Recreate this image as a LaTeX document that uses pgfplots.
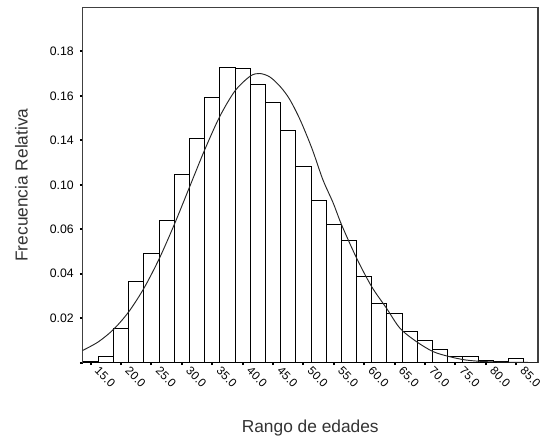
\documentclass[border=0pt]{standalone}
\usepackage{fontspec}
\setmainfont{Liberation Sans}
\usepackage{pgfplots}
\pgfplotsset{compat=1.18}
\begin{document}
\begin{tikzpicture}[x=1pt,y=1pt]
\begin{axis}[
  name=ax,
  scale only axis,
  width=341.6pt, height=266.25pt,
  xmin=13.65, xmax=88.6,
  ymin=0, ymax=0.1598,
  axis line style={draw=black!75, line width=1.2pt},
  tick align=outside,
  major tick length=2pt,
  tick style={black, line width=1.5pt},
  xtick={15,20,25,30,35,40,45,50,55,60,65,70,75,80,85},
  xticklabels={15.0,20.0,25.0,30.0,35.0,40.0,45.0,50.0,55.0,60.0,65.0,70.0,75.0,80.0,85.0},
  ytick={0,0.02,0.04,0.06,0.08,0.10,0.12,0.14},
  yticklabels={,0.02,0.04,0.06,0.10,0.14,0.16,0.18},
  xtick pos=bottom, ytick pos=left,
  ticklabel style={font=\fontsize{8.8pt}{11pt}\selectfont},
  yticklabel style={xshift=-1pt, font=\fontsize{9.2pt}{11pt}\selectfont},
  xticklabel style={xshift=7pt, yshift=1pt, rotate=-45, anchor=north west, inner sep=1pt},
  xlabel={Rango de edades},
  ylabel={Frecuencia Relativa},
  label style={font=\fontsize{13pt}{15pt}\selectfont, text=black!80},
  xlabel style={at={(axis description cs:0.5,-0.1845)}, anchor=center},
  ylabel style={at={(axis description cs:-0.134,0.5)}, anchor=center},
  clip=true,
]
\addplot[ybar, bar shift=0pt, bar width=2.5, fill=white, draw=black, line width=0.75pt] coordinates {
(15,0.0005) (17.5,0.0028) (20,0.0153) (22.5,0.0363) (25,0.0491) (27.5,0.0640)
(30,0.0846) (32.5,0.1009) (35,0.1193) (37.5,0.1329) (40,0.1324) (42.5,0.1253)
(45,0.1169) (47.5,0.1043) (50,0.0881) (52.5,0.0730) (55,0.0621) (57.5,0.0550)
(60,0.0388) (62.5,0.0267) (65,0.0222) (67.5,0.0139) (70,0.0098) (72.5,0.0060)
(75,0.0029) (77.5,0.0029) (80,0.0007) (82.5,0.0005) (85,0.0019)
};
\addplot[smooth, black!85, line width=0.7pt, mark=none] coordinates {
(13.65,0.0054) (16.25,0.0093) (18.75,0.0149) (21.25,0.0228) (23.75,0.0334)
(26.25,0.0466) (28.75,0.0621) (31.25,0.0789) (33.75,0.0957) (36.25,0.1108)
(38.75,0.1223) (41.25,0.1289) (42.8,0.1301) (44.5,0.1285) (46.25,0.1240)
(47.75,0.1184) (49.5,0.1090) (51.45,0.0960) (53.2,0.0823) (54.9,0.0718)
(56.28,0.0620) (58.75,0.0470) (61.22,0.0342) (63.68,0.0244) (65.9,0.0154)
(68.6,0.0094) (71.35,0.0049) (74.1,0.0026) (76.8,0.0011) (80,0.0004)
(84,0.0001) (88.6,0.0)
};
\end{axis}
\pgfresetboundingbox
\path[use as bounding box] ([xshift=-61.875pt,yshift=-56.625pt]ax.south west) rectangle ([xshift=3pt,yshift=5.625pt]ax.north east);
\end{tikzpicture}
\end{document}
